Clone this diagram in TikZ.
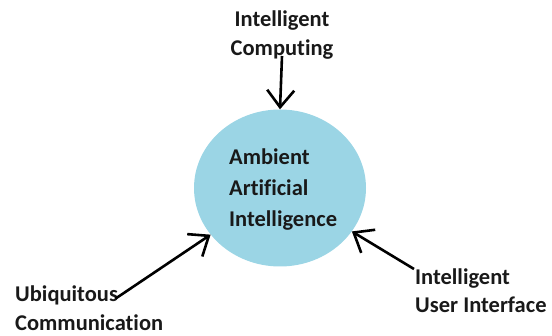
\documentclass[tikz,border=0pt]{standalone}
\usepackage{fontspec}
\setmainfont[Ligatures=NoCommon]{Carlito}
\usetikzlibrary{shapes.geometric,arrows.meta}
\definecolor{ambient}{RGB}{155,213,229}
\tikzset{
  lbl/.style={font=\bfseries\fontsize{22.5}{30}\selectfont, inner sep=0pt, text=black!90, anchor=base west},
  conn/.style={line width=2.6pt, -{Straight Barb[length=17pt,width=27pt,line width=2.6pt]}},
}
\begin{document}
\begin{tikzpicture}[x=1pt,y=-1pt]
  \useasboundingbox (0,0) rectangle (552,336);
  % central concept
  \node[ellipse, fill=ambient, minimum width=172pt, minimum height=157pt, inner sep=0pt] (aai) at (280,188) {};
  \node[lbl] (amb) at (229,165) {Ambient};
  \node[lbl] (art) at (229,196) {Artificial};
  \node[lbl] (int) at (229,227) {Intelligence};
  % surrounding technologies
  \node[lbl, anchor=base] (ic1) at (282,27) {Intelligent};
  \node[lbl, anchor=base] (ic2) at (282,56) {Computing};
  \node[lbl] (ubi) at (15,302) {Ubiquitous};
  \node[lbl] (comm) at (15,331) {Communication};
  \node[lbl] (iui) at (415,285) {Intelligent};
  \node[lbl] (ui) at (415,313) {User Interface};
  % arrows into the centre
  \draw[conn] (ic2.south) ++(0,-4) -- (aai.north);
  \draw[conn, shorten <=-3pt] (ubi.east) ++(0,1) -- (aai);
  \draw[conn] (iui.north west) ++(-1,0) -- (aai);
\end{tikzpicture}
\end{document}
